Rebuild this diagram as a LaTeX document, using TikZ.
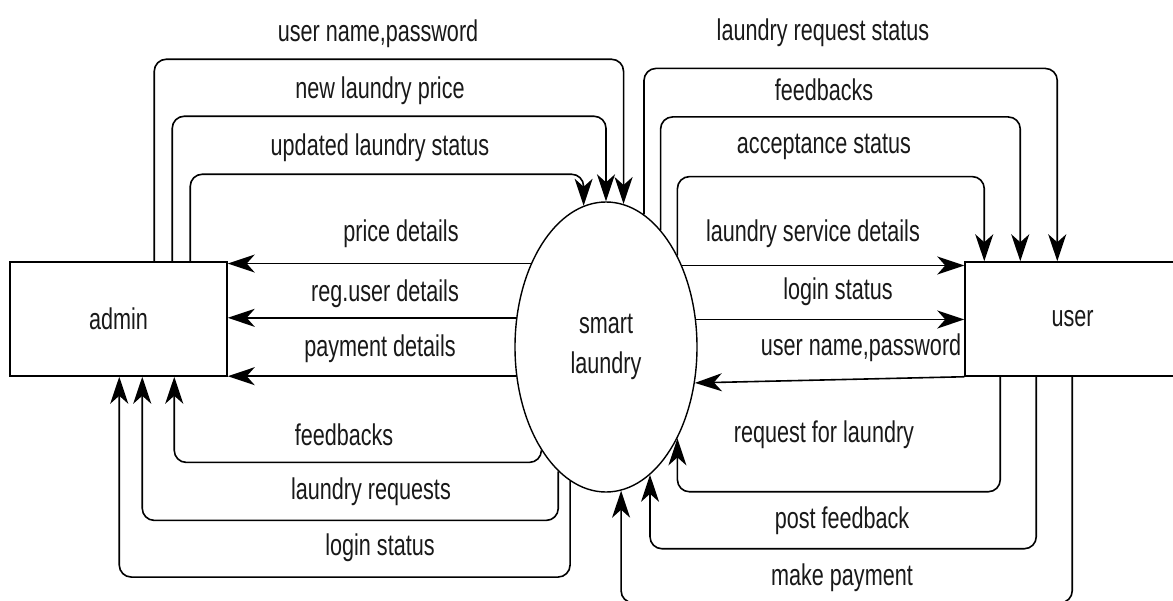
\documentclass[tikz,border=0pt]{standalone}
\usepackage{fontspec}
\setmainfont{Liberation Sans}[FakeStretch=0.72]
\usetikzlibrary{arrows.meta,shapes.geometric,calc}
\tikzset{
  lbl/.style={font=\fontsize{30}{34}\selectfont, text=black!90, inner sep=0pt},
  ent/.style={draw, line width=1.5pt, rectangle, inner sep=0pt, font=\fontsize{30}{34}\selectfont, text=black!90},
  proc/.style={draw, line width=1.4pt, ellipse, inner sep=0pt, minimum width=182pt, minimum height=290pt, align=center, font=\fontsize{30}{40}\selectfont, text=black!90},
  tipA/.tip={Stealth[length=27pt,width=18pt,inset=8pt]},
  flow/.style={line width=1.6pt, -tipA},
  rc/.style={rounded corners=12pt},
}
\begin{document}
\begin{tikzpicture}[x=1pt,y=-1pt]
\useasboundingbox (0,0) rectangle (1173,600);
\clip (0,0) rectangle (1173,600);
\fill[white] (0,0) rectangle (1173,600);
% nodes
\node[ent, minimum width=217pt, minimum height=114pt] (a) at (118.5,319) {admin};
\node[ent, minimum width=215pt, minimum height=114pt] (u) at (1072.5,319) {user};
\node[proc] (c) at (606,347) {smart\\laundry};
% left horizontals
\draw[flow] (c.132.4) -- (c.132.4 -| a.east);
\draw[flow] (c.162.6) -- (c.162.6 -| a.east);
\draw[flow] (c.198.6) -- (c.198.6 -| a.east);
% right horizontals
\draw[flow] (c.47.6) -- (c.47.6 -| u.west);
\draw[flow] (c.17.4) -- (c.17.4 -| u.west);
\draw[flow] (u.south west) -- (c.-22.8);
% top-left loops
\draw[flow] ([xshift=145pt]a.north west) {[rc] -- ++(0,-202) -| (c.83.2)};
\draw[flow] ([xshift=163pt]a.north west) {[rc] -- ++(0,-145) -| (c.90.4)};
\draw[flow] ([xshift=181pt]a.north west) {[rc] -- ++(0,-87) -| (c.99.3)};
% top-right loops
\draw[flow] (c.74.9) {[rc] -- ++(0,-146) -| ([xshift=93pt]u.north west)};
\draw[flow] (c.65.2) {[rc] -- ++(0,-113) -| ([xshift=56pt]u.north west)};
\draw[flow] (c.52.9) {[rc] -- ++(0,-79) -| ([xshift=20pt]u.north west)};
% bottom-left loops
\draw[flow] (c.238.1) {[rc] -- ++(0,12) -| ([xshift=165pt]a.south west)};
\draw[flow] (c.249.2) {[rc] -- ++(0,49) -| ([xshift=133pt]a.south west)};
\draw[flow] (c.255.3) {[rc] -- ++(0,96) -| ([xshift=110pt]a.south west)};
% bottom-right loops
\draw[flow] ([xshift=36pt]u.south west) {[rc] -- ++(0,115) -| (c.308.1)};
\draw[flow] ([xshift=72pt]u.south west) {[rc] -- ++(0,172) -| (c.289.1)};
\draw[flow] ([xshift=108pt]u.south west) {[rc] -- ++(0,226) -| (c.276.8)};
% labels
\node[lbl] (l1) at (378,34) {user name,password};
\node[lbl] (l2) at (380,91) {new laundry price};
\node[lbl] (l3) at (380,148) {updated laundry status};
\node[lbl] (l4) at (401,234) {price details};
\node[lbl] (l5) at (385,294) {reg.user details};
\node[lbl] (l6) at (380,349) {payment details};
\node[lbl] (l7) at (344,435) {feedbacks};
\node[lbl] (l8) at (371,492) {laundry requests};
\node[lbl] (l9) at (380,548) {login status};
\node[lbl] (r1) at (823,33) {laundry request status};
\node[lbl] (r2) at (824,90) {feedbacks};
\node[lbl] (r3) at (824,147) {acceptance status};
\node[lbl] (r4) at (813,234) {laundry service details};
\node[lbl] (r5) at (838,292) {login status};
\node[lbl] (r6) at (861,348) {user name,password};
\node[lbl] (r7) at (824,435) {request for laundry};
\node[lbl] (r8) at (842,521) {post feedback};
\node[lbl] (r9) at (842,578) {make payment};
\end{tikzpicture}
\end{document}
